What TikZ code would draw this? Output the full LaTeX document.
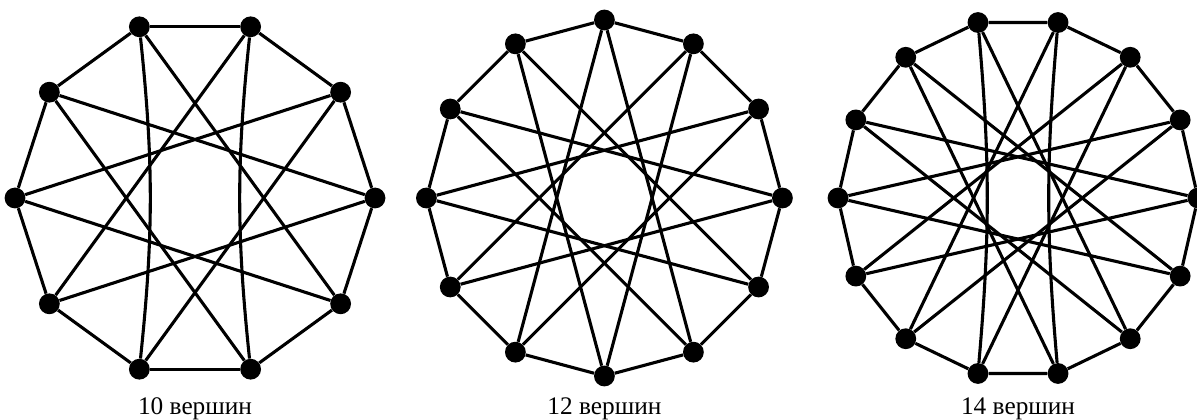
\documentclass[tikz,border=0pt]{standalone}
\usepackage{fontspec}
\setmainfont{Liberation Serif}
\begin{document}
\begin{tikzpicture}[
    % Styles
    vertex/.style={circle, fill=black, inner sep=0pt, minimum size=0.52cm},
    edge/.style={line width=2.2pt},
    graph label/.style={anchor=base, inner sep=0pt, font=\fontsize{18}{21}\selectfont}
]
\useasboundingbox (0,0) rectangle (29.925,10.475);

% Graph with 10 vertices
\begin{scope}[shift={(4.875,5.525)}]
    \foreach \i in {0,...,9}
        \node[vertex] (a\i) at (36*\i:4.5) {};
    \node[graph label] (la) at (0,-5.42) {10 вершин};
\end{scope}
\foreach \i in {0,...,9} {
    \pgfmathtruncatemacro\j{mod(\i+1,10)}
    \draw[edge] (a\i) -- (a\j);
}
\foreach \i/\j in {0/4,1/5,2/6,4/8,5/9,6/0,7/1,9/3}
    \draw[edge] (a\i) -- (a\j);
\draw[edge] (a3) to[bend left=6] (a7);
\draw[edge] (a8) to[bend left=6] (a2);

% Graph with 12 vertices
\begin{scope}[shift={(15.11,5.525)}]
    \foreach \i in {0,...,11}
        \node[vertex] (b\i) at (30*\i:4.45) {};
    \node[graph label] (lb) at (0,-5.42) {12 вершин};
\end{scope}
\foreach \i in {0,...,11} {
    \pgfmathtruncatemacro\j{mod(\i+1,12)}
    \pgfmathtruncatemacro\k{mod(\i+5,12)}
    \draw[edge] (b\i) -- (b\j);
    \draw[edge] (b\i) -- (b\k);
}

% Graph with 14 vertices
\begin{scope}[shift={(25.45,5.525)}]
    \foreach \i in {0,...,13}
        \node[vertex] (c\i) at (360/14*\i:4.5) {};
    \node[graph label] (lc) at (0,-5.42) {14 вершин};
\end{scope}
\foreach \i in {0,...,13} {
    \pgfmathtruncatemacro\j{mod(\i+1,14)}
    \draw[edge] (c\i) -- (c\j);
}
\foreach \i/\j in {0/6,1/7,2/8,3/9,5/11,6/12,7/13,8/0,9/1,10/2,12/4,13/5}
    \draw[edge] (c\i) -- (c\j);
\draw[edge] (c4) to[bend left=5] (c10);
\draw[edge] (c11) to[bend left=5] (c3);

\end{tikzpicture}
\end{document}
